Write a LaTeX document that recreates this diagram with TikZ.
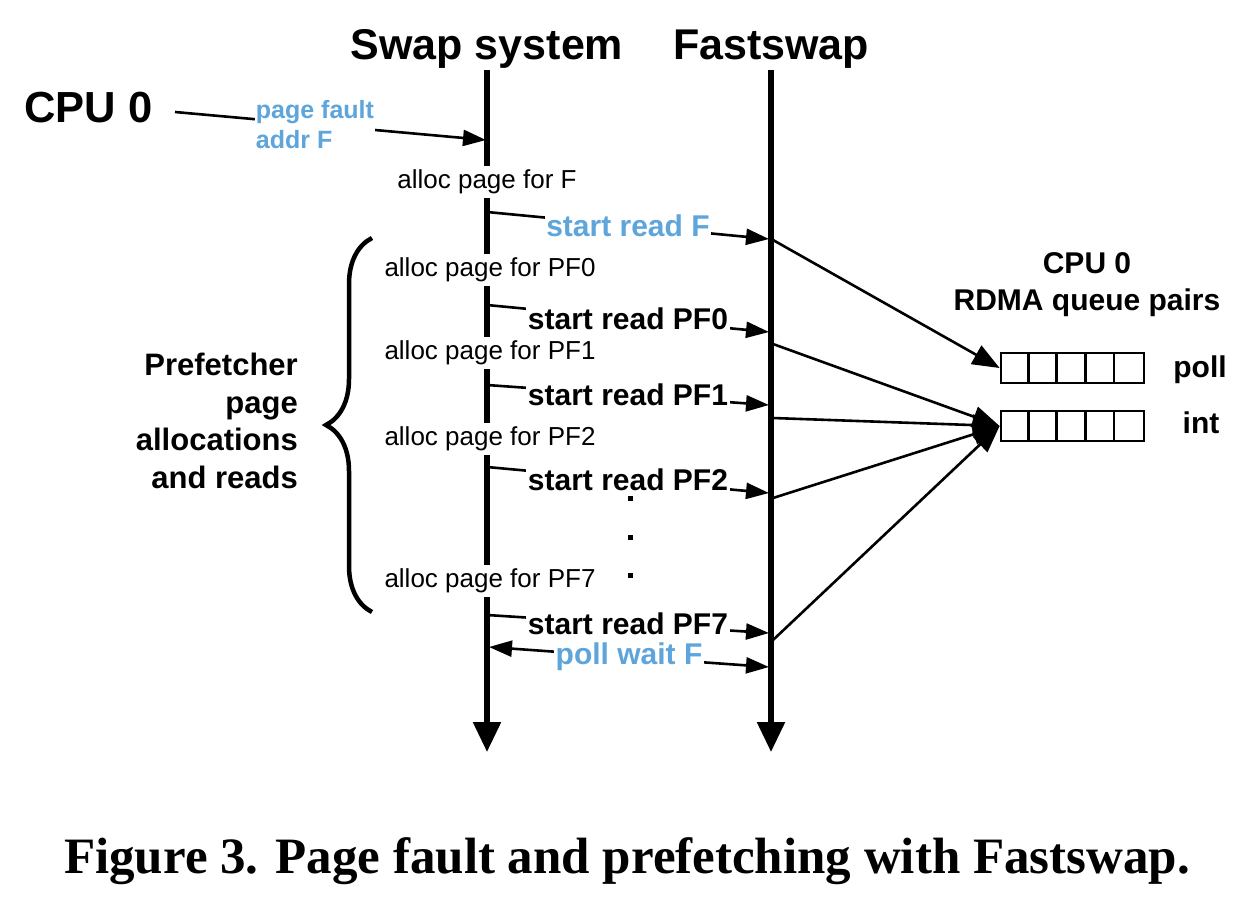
\documentclass[tikz,border=0pt]{standalone}
\usepackage{fontspec}
\setmainfont{Liberation Sans}
\newfontfamily\capfont{Liberation Serif}
\usetikzlibrary{arrows.meta,decorations.pathreplacing}
\definecolor{fsblue}{HTML}{5DA5DA}
\tikzset{
  vline/.style={line width=5.5pt,-{Triangle[length=30pt,width=27pt]}},
  conn/.style={line width=2.6pt,-{Triangle[length=23pt,width=16pt]}},
  qconn/.style={line width=2.6pt,-{Triangle[length=27pt,width=21pt]}},
  titletext/.style={font=\fontsize{43}{50}\selectfont\bfseries,anchor=base,inner sep=0pt},
  boldlab/.style={font=\fontsize{30}{36}\selectfont\bfseries,fill=white,inner sep=1.5pt},
  bluelab/.style={boldlab,text=fsblue},
  alloclab/.style={font=\fontsize{26}{30}\selectfont,fill=white,inner sep=0pt,minimum height=32pt},
  queue/.style={draw,line width=2.8pt,minimum width=143pt,minimum height=30pt,inner sep=0pt},
  sidetext/.style={font=\fontsize{30}{36}\selectfont\bfseries,anchor=base,inner sep=0pt},
  dotmark/.style={fill=black,minimum size=5pt,inner sep=0pt},
}
\begin{document}
\begin{tikzpicture}[x=1pt,y=-1pt]
\useasboundingbox (0,0) rectangle (1244,898);
% titles
\node[titletext] (tsw) at (487,59) {Swap system};
\node[titletext] (tfs) at (771,59) {Fastswap};
% timelines
\coordinate (swtop) at (487,70);
\coordinate (swbot) at (487,752);
\coordinate (fstop) at (771,70);
\coordinate (fsbot) at (771,752);
\draw[vline] (swtop) -- (swbot);
\draw[vline] (fstop) -- (fsbot);
% CPU 0
\node[font=\fontsize{43.5}{48}\selectfont\bfseries,anchor=base west,inner sep=0pt] (cpu) at (24,122) {CPU 0};
\coordinate (pfs) at (175,112);
\coordinate (pfe) at (486,140);
\draw[conn] (pfs) -- node[font=\fontsize{25}{30}\selectfont\bfseries,text=fsblue,fill=white,align=left,inner sep=1pt,pos=0.45] (pflab) {page fault\\addr F} (pfe);
% alloc labels
\node[alloclab] (a0) at (487,182) {alloc page for F};
\node[alloclab] (a1) at (490,270) {alloc page for PF0};
\node[alloclab] (a2) at (490,353) {alloc page for PF1};
\node[alloclab] (a3) at (490,439) {alloc page for PF2};
\node[alloclab] (a7) at (490,581) {alloc page for PF7};
% swap-side points
\coordinate (s0) at (487,212);
\coordinate (s1) at (487,305);
\coordinate (s2) at (487,385);
\coordinate (s3) at (487,467);
\coordinate (s7) at (487,615);
\coordinate (sw) at (489,647);
% fastswap-side points
\coordinate (f0) at (769,239);
\coordinate (f1) at (769,332);
\coordinate (f2) at (769,405);
\coordinate (f3) at (769,493);
\coordinate (f7) at (769,633);
\coordinate (fw) at (769,667);
\draw[conn] (s0) -- node[bluelab] (r0) {start read F} (f0);
\draw[conn] (s1) -- node[boldlab] (r1) {start read PF0} (f1);
\draw[conn] (s2) -- node[boldlab] (r2) {start read PF1} (f2);
\draw[conn] (s3) -- node[boldlab] (r3) {start read PF2} (f3);
\draw[conn] (s7) -- node[boldlab] (r7) {start read PF7} (f7);
\draw[conn,{Triangle[length=23pt,width=16pt]}-{Triangle[length=23pt,width=16pt]}] (sw) -- node[bluelab] (pw) {poll wait F} (fw);
% dots
\node[dotmark] (d1) at (630,498) {};
\node[dotmark] (d2) at (630,537) {};
\node[dotmark] (d3) at (630,575) {};
% brace and prefetcher label
\coordinate (bb) at (372,612);
\coordinate (bt) at (372,238);
\draw[line width=4.5pt,decorate,decoration={brace,amplitude=46pt}] (bb) -- (bt);
\node[font=\fontsize{31}{37.7}\selectfont\bfseries,align=right,anchor=east,inner sep=0pt] (pref) at (298,421) {Prefetcher\\page\\allocations\\and reads};
% RDMA queues
\node[sidetext] (rcpu) at (1087,273) {CPU 0};
\node[sidetext] (rdma) at (1087,310) {RDMA queue pairs};
\node[queue] (pollq) at (1072.5,368) {};
\node[queue] (intq) at (1072.5,426) {};
\foreach \i in {1,...,4} {
  \draw[line width=2.8pt] ([xshift=\i*28.6pt]pollq.south west) -- ([xshift=\i*28.6pt]pollq.north west);
  \draw[line width=2.8pt] ([xshift=\i*28.6pt]intq.south west) -- ([xshift=\i*28.6pt]intq.north west);
}
\node[sidetext] (pollt) at (1200,377) {poll};
\node[sidetext] (intt) at (1201,433) {int};
% fastswap outgoing
\coordinate (o0) at (773,240);
\coordinate (o1) at (773,344);
\coordinate (o2) at (773,418);
\coordinate (o3) at (773,498);
\coordinate (o7) at (773,640);
\draw[qconn] (o0) -- (pollq.west);
\draw[qconn] (o1) -- (intq.west);
\draw[qconn] (o2) -- (intq.west);
\draw[qconn] (o3) -- (intq.west);
\draw[qconn] (o7) -- (intq.west);
% caption
\node[font=\fontsize{51}{58}\selectfont\capfont\bfseries,anchor=base,inner sep=0pt] (cap) at (627,873) {Figure 3. Page fault and prefetching with Fastswap.};
\end{tikzpicture}
\end{document}
